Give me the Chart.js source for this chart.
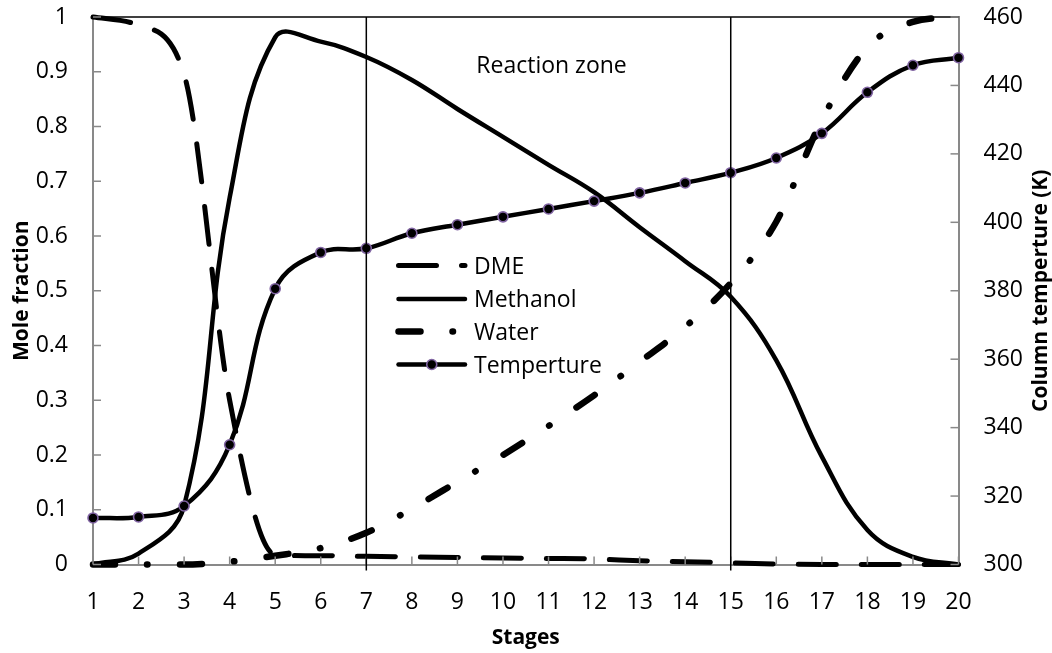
<!DOCTYPE html>
<html>
<head>
<meta charset="utf-8">
<title>Stage profiles</title>
<script src="https://cdn.jsdelivr.net/npm/chart.js@4.4.1/dist/chart.umd.min.js"></script>
<style>
  html, body { margin: 0; padding: 0; background: #ffffff; }
  #wrap { width: 1052px; height: 653px; }
</style>
</head>
<body>
<div id="wrap"><canvas id="chart" width="1052" height="653"></canvas></div>
<script>
// Column stages (1 = top, 20 = bottom)
const stages = [1, 2, 3, 4, 5, 6, 7, 8, 9, 10, 11, 12, 13, 14, 15, 16, 17, 18, 19, 20];

// Liquid mole fractions per stage
const dmeFraction = [1.0, 0.985, 0.895, 0.30, 0.018, 0.016, 0.015, 0.014, 0.013, 0.012, 0.011, 0.010, 0.007, 0.005, 0.003, 0.001, 0, 0, 0, 0];
const methanolFraction = [0, 0.02, 0.107, 0.67, 0.963, 0.955, 0.927, 0.885, 0.832, 0.781, 0.730, 0.680, 0.616, 0.554, 0.489, 0.373, 0.197, 0.063, 0.014, 0];
const waterFraction = [0, 0, 0, 0.005, 0.016, 0.030, 0.058, 0.102, 0.151, 0.200, 0.253, 0.309, 0.370, 0.434, 0.514, 0.626, 0.812, 0.945, 0.991, 1.0];

// Column temperature per stage (K)
const columnTemperature = [313.6, 313.9, 317.1, 335.0, 380.6, 391.2, 392.4, 396.8, 399.3, 401.6, 403.9, 406.2, 408.6, 411.5, 414.5, 418.8, 426.0, 438.0, 445.9, 448.1];

// Axis tick values
const fractionTicks = [0, 0.1, 0.2, 0.3, 0.4, 0.5, 0.6, 0.7, 0.8, 0.9, 1];
const temperatureTicks = [300, 320, 340, 360, 380, 400, 420, 440, 460];

// Stages bounding the reaction zone
const reactionZone = [7, 15];

const seriesNames = ['DME', 'Methanol', 'Water', 'Temperture'];

const FONT = '"Open Sans", "DejaVu Sans", sans-serif';
const AXIS_GREY = '#898989';
const MARKER_EDGE = '#8064A2';

const toPoints = vals => stages.map((s, i) => ({ x: s, y: vals[i] }));

const datasets = [
  {
    label: seriesNames[0],
    data: toPoints(dmeFraction),
    yAxisID: 'y',
    borderColor: '#000',
    borderWidth: 5,
    borderDash: [38, 25],
    borderCapStyle: 'round',
    borderJoinStyle: 'round',
    cubicInterpolationMode: 'monotone',
    pointRadius: 0,
    clip: false,
    order: 3
  },
  {
    label: seriesNames[1],
    data: toPoints(methanolFraction),
    yAxisID: 'y',
    borderColor: '#000',
    borderWidth: 4.5,
    borderCapStyle: 'round',
    borderJoinStyle: 'round',
    tension: 0.4,
    pointRadius: 0,
    clip: false,
    order: 2
  },
  {
    label: seriesNames[2],
    data: toPoints(waterFraction),
    yAxisID: 'y',
    borderColor: '#000',
    borderWidth: 6.5,
    borderDash: [22, 32, 0.5, 32.5],
    borderCapStyle: 'round',
    borderJoinStyle: 'round',
    cubicInterpolationMode: 'monotone',
    pointRadius: 0,
    clip: false,
    order: 1
  },
  {
    label: seriesNames[3],
    data: toPoints(columnTemperature),
    yAxisID: 'y2',
    borderColor: '#000',
    borderWidth: 4.5,
    borderCapStyle: 'round',
    borderJoinStyle: 'round',
    tension: 0.4,
    pointRadius: 5,
    pointBackgroundColor: '#000',
    pointBorderColor: MARKER_EDGE,
    pointBorderWidth: 1.6,
    clip: false,
    order: 0
  }
];

function strokeLine(ctx, x0, y0, x1, y1) {
  ctx.beginPath();
  ctx.moveTo(x0, y0);
  ctx.lineTo(x1, y1);
  ctx.stroke();
}

// Fixed plot frame: left 93, right 958.5, top 17, bottom 564.5
function fixBox(size) {
  return s => {
    if (s.isHorizontal()) { s.height = size; } else { s.width = size; }
    s.paddingTop = 0;
    s.paddingBottom = 0;
    s.paddingLeft = 0;
    s.paddingRight = 0;
  };
}

// Frame, inward tick marks, reaction-zone markers, legend and right axis title
const decorations = {
  id: 'decorations',
  beforeDraw(chart) {
    const ctx = chart.ctx;
    ctx.save();
    ctx.fillStyle = '#ffffff';
    ctx.fillRect(0, 0, chart.width, chart.height);
    ctx.restore();
  },
  afterDraw(chart) {
    const { ctx, chartArea: a, scales } = chart;
    const x = scales.x, y = scales.y, y2 = scales.y2;
    ctx.save();

    // top frame edge
    ctx.strokeStyle = '#000';
    ctx.lineWidth = 1.5;
    strokeLine(ctx, a.left, a.top, a.right, a.top);

    // inward tick marks
    ctx.strokeStyle = AXIS_GREY;
    ctx.lineWidth = 1.5;
    const tl = 8;
    stages.forEach(s => {
      const px = x.getPixelForValue(s);
      strokeLine(ctx, px, a.bottom, px, a.bottom - tl);
    });
    fractionTicks.forEach(v => {
      const py = y.getPixelForValue(v);
      strokeLine(ctx, a.left, py, a.left + tl, py);
    });
    temperatureTicks.forEach(v => {
      const py = y2.getPixelForValue(v);
      strokeLine(ctx, a.right, py, a.right - tl, py);
    });

    // reaction zone boundaries
    ctx.strokeStyle = '#000';
    ctx.lineWidth = 1.5;
    reactionZone.forEach(s => {
      const px = x.getPixelForValue(s);
      strokeLine(ctx, px, a.top, px, a.bottom + 6);
    });
    ctx.fillStyle = '#000';
    ctx.font = '23px ' + FONT;
    ctx.textAlign = 'center';
    ctx.textBaseline = 'middle';
    const zoneMid = x.getPixelForValue((reactionZone[0] + reactionZone[1]) / 2);
    ctx.fillText('Reaction zone', zoneMid + 3, 66);

    // legend
    const lx0 = 398.5, lx1 = 465, textX = 474;
    const rows = [267, 300.5, 333, 366];
    chart.data.datasets.forEach((ds, i) => {
      const ry = rows[i];
      ctx.save();
      ctx.strokeStyle = ds.borderColor;
      ctx.lineWidth = ds.borderWidth;
      ctx.lineCap = 'round';
      ctx.setLineDash(ds.borderDash || []);
      ctx.lineDashOffset = 0;
      strokeLine(ctx, lx0, ry - 1.5, lx1, ry - 1.5);
      ctx.restore();
      if (ds.pointRadius > 0) {
        ctx.beginPath();
        ctx.arc((lx0 + lx1) / 2, ry - 1.5, ds.pointRadius, 0, Math.PI * 2);
        ctx.fillStyle = ds.pointBackgroundColor;
        ctx.fill();
        ctx.lineWidth = ds.pointBorderWidth;
        ctx.strokeStyle = ds.pointBorderColor;
        ctx.stroke();
      }
      ctx.fillStyle = '#000';
      ctx.font = '23px ' + FONT;
      ctx.textAlign = 'left';
      ctx.textBaseline = 'middle';
      ctx.fillText(ds.label, textX, ry);
    });

    // right axis title, reading upward
    ctx.save();
    ctx.translate(1041, (a.top + a.bottom) / 2);
    ctx.rotate(-Math.PI / 2);
    ctx.fillStyle = '#000';
    ctx.font = 'bold 21px ' + FONT;
    ctx.textAlign = 'center';
    ctx.textBaseline = 'middle';
    ctx.fillText('Column temperture (K)', 0, 0);
    ctx.restore();

    ctx.restore();
  }
};

const tickFont = { family: FONT, size: 23 };
const titleFont = { family: FONT, size: 21, weight: 'bold' };

new Chart(document.getElementById('chart'), {
  type: 'line',
  data: { datasets },
  plugins: [decorations],
  options: {
    responsive: false,
    animation: false,
    devicePixelRatio: 1,
    layout: { padding: { top: 17, left: 0, right: 0, bottom: 0 } },
    plugins: {
      legend: { display: false },
      tooltip: { enabled: false }
    },
    scales: {
      x: {
        type: 'linear',
        min: 1,
        max: 20,
        afterBuildTicks: s => { s.ticks = stages.map(v => ({ value: v })); },
        afterFit: fixBox(88.5),
        grid: { display: true, drawOnChartArea: false, drawTicks: false },
        border: { display: true, color: AXIS_GREY, width: 2 },
        ticks: { color: '#000', font: tickFont, padding: 24, maxRotation: 0, autoSkip: false },
        title: { display: true, text: 'Stages', color: '#000', font: titleFont, padding: { top: 0, bottom: 2 } }
      },
      y: {
        type: 'linear',
        position: 'left',
        min: 0,
        max: 1,
        afterBuildTicks: s => { s.ticks = fractionTicks.map(v => ({ value: v })); },
        afterFit: fixBox(93),
        grid: { display: true, drawOnChartArea: false, drawTicks: false },
        border: { display: true, color: AXIS_GREY, width: 2 },
        ticks: { color: '#000', font: tickFont, padding: 25, callback: v => String(Number(v.toFixed(1))) },
        title: { display: true, text: 'Mole fraction', color: '#000', font: titleFont, padding: { top: 9, bottom: 0 } }
      },
      y2: {
        type: 'linear',
        position: 'right',
        min: 300,
        max: 460,
        afterBuildTicks: s => { s.ticks = temperatureTicks.map(v => ({ value: v })); },
        afterFit: fixBox(93.5),
        grid: { display: true, drawOnChartArea: false, drawTicks: false },
        border: { display: true, color: AXIS_GREY, width: 2 },
        ticks: { color: '#000', font: tickFont, padding: 25 },
        title: { display: false }
      }
    }
  }
});
</script>
</body>
</html>
